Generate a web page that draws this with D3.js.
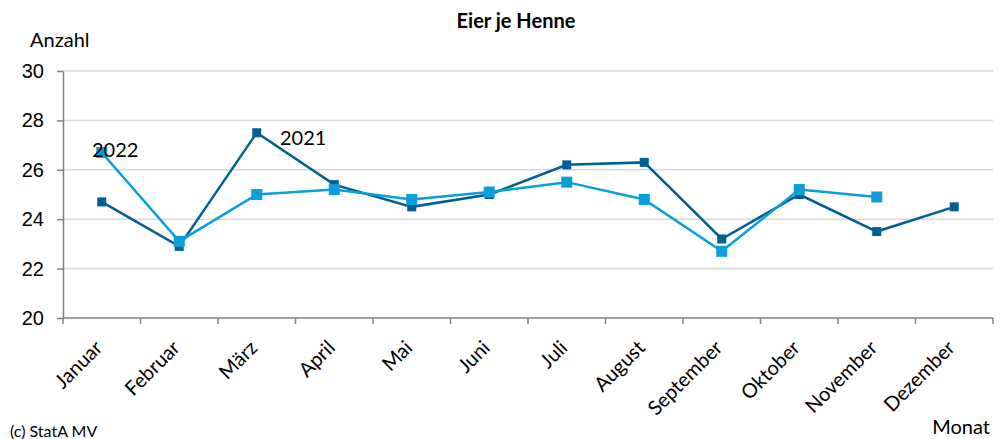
<!DOCTYPE html>
<html>
<head>
<meta charset="utf-8">
<script src="https://cdn.jsdelivr.net/npm/d3@7"></script>
<style>
  body { margin: 0; background: #fff; }
  svg { font-family: Lato, "Open Sans", sans-serif; }
  .grid line { stroke: #d9d9d9; stroke-width: 1.5; }
  .axis path, .axis line { stroke: #808080; stroke-width: 1.5; }
</style>
</head>
<body>
<div id="chart"></div>
<script>
const months = ["Januar", "Februar", "März", "April", "Mai", "Juni", "Juli",
  "August", "September", "Oktober", "November", "Dezember"];
const eggs2021 = [24.7, 22.9, 27.5, 25.4, 24.5, 25.0, 26.2, 26.3, 23.2, 25.0, 23.5, 24.5];
const eggs2022 = [26.7, 23.1, 25.0, 25.2, 24.8, 25.1, 25.5, 24.8, 22.7, 25.2, 24.9];
const yTicks = [20, 22, 24, 26, 28, 30];

const width = 1000, height = 439;
const margin = { top: 71, right: 7, bottom: 121, left: 63 };

const svg = d3.select("#chart").append("svg")
  .attr("width", width)
  .attr("height", height);

const x = d3.scaleBand().domain(months).range([margin.left, width - margin.right]);
const y = d3.scaleLinear().domain([20, 30]).range([height - margin.bottom, margin.top]);

// gridlines
svg.append("g").attr("class", "grid")
  .selectAll("line")
  .data(yTicks.slice(1))
  .join("line")
  .attr("x1", margin.left).attr("x2", width - margin.right)
  .attr("y1", d => y(d)).attr("y2", d => y(d));

// y axis
const yAxis = svg.append("g").attr("class", "axis")
  .attr("transform", `translate(${margin.left},0)`)
  .call(d3.axisLeft(y).tickValues(yTicks).tickSize(6).tickSizeOuter(0).tickPadding(13));
yAxis.selectAll("text").attr("font-size", 20).attr("fill", "#000");

// x axis, ticks sit on the band boundaries
const xAxisG = svg.append("g").attr("class", "axis")
  .attr("transform", `translate(0,${y(20)})`);
xAxisG.append("line")
  .attr("x1", margin.left).attr("x2", width - margin.right);
xAxisG.selectAll(".tk")
  .data(months.concat(["end"]))
  .join("line")
  .attr("class", "tk")
  .attr("x1", (d, i) => margin.left + i * x.bandwidth())
  .attr("x2", (d, i) => margin.left + i * x.bandwidth())
  .attr("y1", 0).attr("y2", 6);
xAxisG.selectAll("text")
  .data(months)
  .join("text")
  .attr("transform", d => `translate(${x(d) + x.bandwidth() / 2 + 2},${31}) rotate(-45)`)
  .attr("text-anchor", "end")
  .attr("font-size", 20)
  .attr("fill", "#000")
  .text(d => d);

// lines
const line = d3.line()
  .x((d, i) => x(months[i]) + x.bandwidth() / 2)
  .y(d => y(d));

const series = [
  { name: "2021", values: eggs2021, color: "#005f94", size: 9 },
  { name: "2022", values: eggs2022, color: "#0a9fd8", size: 11 }
];

series.forEach(s => {
  svg.append("path")
    .datum(s.values)
    .attr("fill", "none")
    .attr("stroke", s.color)
    .attr("stroke-width", 2.5)
    .attr("d", line);
});
series.forEach(s => {
  svg.append("g").selectAll("rect")
    .data(s.values)
    .join("rect")
    .attr("x", (d, i) => x(months[i]) + x.bandwidth() / 2 - s.size / 2)
    .attr("y", d => y(d) - s.size / 2)
    .attr("width", s.size).attr("height", s.size)
    .attr("fill", s.color);
});

// series labels
svg.append("text").attr("x", 92).attr("y", 157).attr("font-size", 20).text("2022");
svg.append("text").attr("x", 280).attr("y", 145).attr("font-size", 20).text("2021");

// titles
svg.append("text")
  .attr("x", 516).attr("y", 28)
  .attr("text-anchor", "middle")
  .attr("font-size", 20).attr("font-weight", "bold")
  .text("Eier je Henne");
svg.append("text").attr("x", 30).attr("y", 47).attr("font-size", 20).text("Anzahl");
svg.append("text").attr("x", 990).attr("y", 434).attr("text-anchor", "end")
  .attr("font-size", 20).text("Monat");
svg.append("text").attr("x", 10).attr("y", 437).attr("font-size", 16).text("(c) StatA MV");
</script>
</body>
</html>
